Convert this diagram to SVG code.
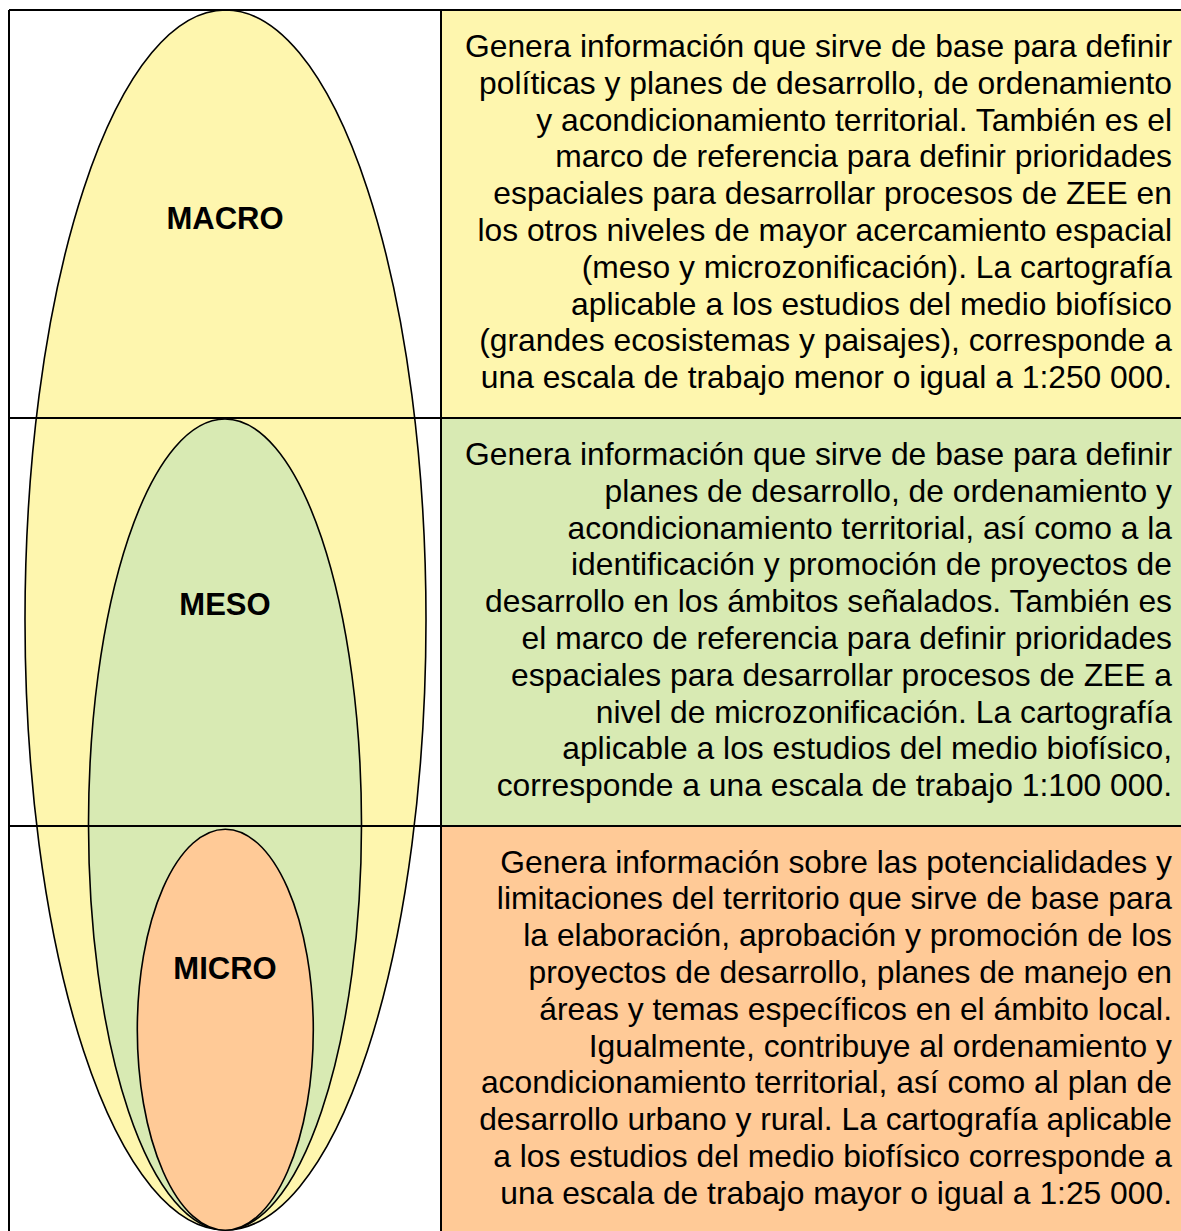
<svg xmlns="http://www.w3.org/2000/svg" width="1181" height="1231" viewBox="0 0 1181 1231">
<style>
.desc{font-family:"Liberation Sans",Arial,sans-serif;font-size:31.8px;fill:#000;text-anchor:end}
.lbl{font-family:"Liberation Sans",Arial,sans-serif;font-size:31px;font-weight:bold;fill:#000;text-anchor:middle}
.ell{stroke:#000;stroke-width:1.6}
.grid{stroke:#000;stroke-width:2;fill:none}
</style>
<rect x="0" y="0" width="1181" height="1231" fill="#fff"/>
<g id="backgrounds">
<rect x="441" y="10" width="740" height="408" fill="#FEF6AE"/>
<rect x="441" y="418" width="740" height="408" fill="#D8EAB3"/>
<rect x="441" y="826" width="740" height="405" fill="#FFCA97"/>
</g>
<g id="node-macro">
<ellipse class="ell" cx="225.5" cy="620" rx="200.5" ry="610" fill="#FEF6AE"/>
</g>
<g id="node-meso">
<ellipse class="ell" cx="225" cy="824.5" rx="136.5" ry="405.5" fill="#D8EAB3"/>
</g>
<g id="node-micro">
<ellipse class="ell" cx="225.3" cy="1029.7" rx="88" ry="200.5" fill="#FFCA97"/>
</g>
<g id="connectors">
<line class="grid" x1="9" y1="10" x2="1181" y2="10"/>
<line class="grid" x1="9" y1="10" x2="9" y2="1231"/>
<line class="grid" x1="441" y1="10" x2="441" y2="1231"/>
<line class="grid" x1="9" y1="418" x2="1181" y2="418"/>
<line class="grid" x1="9" y1="826" x2="1181" y2="826"/>
</g>
<g id="labels">
<text class="lbl" x="225" y="228.5">MACRO</text>
<text class="lbl" x="225" y="615">MESO</text>
<text class="lbl" x="225" y="979">MICRO</text>
</g>
<g id="desc-macro">
<text class="desc" x="1172" y="57">Genera información que sirve de base para definir</text>
<text class="desc" x="1172" y="93.8">políticas y planes de desarrollo, de ordenamiento</text>
<text class="desc" x="1172" y="130.6">y acondicionamiento territorial. También es el</text>
<text class="desc" x="1172" y="167.4">marco de referencia para definir prioridades</text>
<text class="desc" x="1172" y="204.2">espaciales para desarrollar procesos de ZEE en</text>
<text class="desc" x="1172" y="241">los otros niveles de mayor acercamiento espacial</text>
<text class="desc" x="1172" y="277.8">(meso y microzonificación). La cartografía</text>
<text class="desc" x="1172" y="314.6">aplicable a los estudios del medio biofísico</text>
<text class="desc" x="1172" y="351.4">(grandes ecosistemas y paisajes), corresponde a</text>
<text class="desc" x="1172" y="388.2">una escala de trabajo menor o igual a 1:250 000.</text>
</g>
<g id="desc-meso">
<text class="desc" x="1172" y="465">Genera información que sirve de base para definir</text>
<text class="desc" x="1172" y="501.8">planes de desarrollo, de ordenamiento y</text>
<text class="desc" x="1172" y="538.6">acondicionamiento territorial, así como a la</text>
<text class="desc" x="1172" y="575.4">identificación y promoción de proyectos de</text>
<text class="desc" x="1172" y="612.2">desarrollo en los ámbitos señalados. También es</text>
<text class="desc" x="1172" y="649">el marco de referencia para definir prioridades</text>
<text class="desc" x="1172" y="685.8">espaciales para desarrollar procesos de ZEE a</text>
<text class="desc" x="1172" y="722.6">nivel de microzonificación. La cartografía</text>
<text class="desc" x="1172" y="759.4">aplicable a los estudios del medio biofísico,</text>
<text class="desc" x="1172" y="796.2">corresponde a una escala de trabajo 1:100 000.</text>
</g>
<g id="desc-micro">
<text class="desc" x="1172" y="872.5">Genera información sobre las potencialidades y</text>
<text class="desc" x="1172" y="909.3">limitaciones del territorio que sirve de base para</text>
<text class="desc" x="1172" y="946.1">la elaboración, aprobación y promoción de los</text>
<text class="desc" x="1172" y="982.9">proyectos de desarrollo, planes de manejo en</text>
<text class="desc" x="1172" y="1019.7">áreas y temas específicos en el ámbito local.</text>
<text class="desc" x="1172" y="1056.5">Igualmente, contribuye al ordenamiento y</text>
<text class="desc" x="1172" y="1093.3">acondicionamiento territorial, así como al plan de</text>
<text class="desc" x="1172" y="1130.1">desarrollo urbano y rural. La cartografía aplicable</text>
<text class="desc" x="1172" y="1166.9">a los estudios del medio biofísico corresponde a</text>
<text class="desc" x="1172" y="1203.7">una escala de trabajo mayor o igual a 1:25 000.</text>
</g>
</svg>
